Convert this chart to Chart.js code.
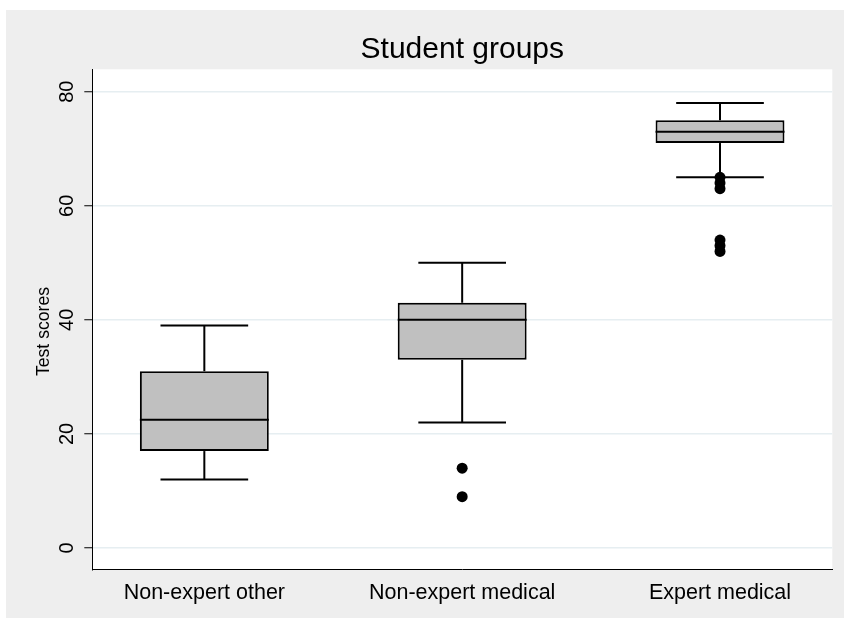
<!DOCTYPE html>
<html>
<head>
<meta charset="utf-8">
<script src="https://cdn.jsdelivr.net/npm/chart.js@4"></script>
<style>
  html, body { margin: 0; padding: 0; background: #fff; }
  #wrap { position: absolute; left: 6px; top: 10px; width: 838px; height: 608px; background: #eeeeee; }
</style>
</head>
<body>
<div id="wrap"><canvas id="boxChart" width="838" height="608"></canvas></div>
<script>
// ── Data ──
const GROUPS   = ['Non-expert other', 'Non-expert medical', 'Expert medical'];
const LOW_ADJ  = [12, 22, 65];
const Q1       = [17, 33, 71];
const MEDIAN   = [22.5, 40, 73];
const Q3       = [31, 43, 75];
const HIGH_ADJ = [39, 50, 78];
const OUTLIER_GROUP = [2, 2, 3, 3, 3, 3, 3, 3];
const OUTLIER_VALUE = [14, 9, 52, 53, 54, 63, 64, 65];
const Y_TICKS  = [0, 20, 40, 60, 80];

// ── Style tokens ──
const FONT   = "'Liberation Sans', Arial, sans-serif";
const C_BOX  = '#c0c0c0';
const C_INK  = '#000000';
const C_GRID = '#e6eef1';

// white plot region on the grey page
const plotBg = {
  id: 'plotBg',
  beforeDraw(chart) {
    const { ctx, chartArea: a } = chart;
    ctx.save();
    ctx.fillStyle = '#ffffff';
    ctx.fillRect(a.left, a.top, a.right - a.left, a.bottom - a.top);
    ctx.restore();
  }
};

// whiskers, caps and median line, placed through the chart scales
const whiskers = {
  id: 'whiskers',
  afterDatasetsDraw(chart) {
    const { ctx, scales: { x, y } } = chart;
    const bars = chart.getDatasetMeta(0).data;
    const line = (x1, y1, x2, y2) => {
      ctx.beginPath(); ctx.moveTo(x1, y1); ctx.lineTo(x2, y2); ctx.stroke();
    };
    ctx.save();
    ctx.strokeStyle = C_INK;
    ctx.lineWidth = 2;
    GROUPS.forEach((g, i) => {
      const cx = x.getPixelForValue(i + 1);
      const half = bars[i].width / 2;
      const cap = half * 0.68;
      const yHi = y.getPixelForValue(HIGH_ADJ[i]);
      const yLo = y.getPixelForValue(LOW_ADJ[i]);
      line(cx, y.getPixelForValue(Q3[i]), cx, yHi);
      line(cx, y.getPixelForValue(Q1[i]), cx, yLo);
      line(cx - cap, yHi, cx + cap, yHi);
      line(cx - cap, yLo, cx + cap, yLo);
      const yMed = y.getPixelForValue(MEDIAN[i]);
      line(cx - half, yMed, cx + half, yMed);
    });
    ctx.restore();
  }
};

new Chart(document.getElementById('boxChart'), {
  type: 'bar',
  data: {
    datasets: [{
      label: 'Box',
      data: GROUPS.map((g, i) => ({ x: i + 1, y: [Q1[i], Q3[i]] })),
      backgroundColor: C_BOX,
      borderColor: C_INK,
      borderWidth: 2,
      borderSkipped: false,
      categoryPercentage: 1,
      barPercentage: 0.5,
    }, {
      type: 'scatter',
      label: 'Outliers',
      data: OUTLIER_GROUP.map((g, i) => ({ x: g, y: OUTLIER_VALUE[i] })),
      pointRadius: 5.5,
      pointBackgroundColor: C_INK,
      pointBorderWidth: 0,
      showLine: false,
    }]
  },
  options: {
    responsive: false,
    devicePixelRatio: 1,
    animation: false,
    events: [],
    layout: { padding: { left: 0, right: 11.7, top: 0, bottom: 0 } },
    plugins: {
      legend: { display: false },
      tooltip: { enabled: false },
      title: {
        display: true,
        text: 'Student groups',
        fullSize: false,
        color: C_INK,
        font: { size: 30, family: FONT, weight: 'normal' },
        padding: { top: 22, bottom: 1.3 },
      }
    },
    scales: {
      x: {
        type: 'linear',
        min: 0.5655,
        max: 3.4355,
        offset: false,
        afterBuildTicks: s => { s.ticks = GROUPS.map((g, i) => ({ value: i + 1 })); },
        afterFit: s => { s.height = 48.7; },
        grid: { display: false, drawTicks: false, offset: false },
        border: { display: true, color: C_INK, width: 1 },
        ticks: {
          callback: v => GROUPS[v - 1],
          autoSkip: false,
          maxRotation: 0,
          padding: 11,
          color: C_INK,
          font: { size: 21.5, family: FONT },
        }
      },
      y: {
        type: 'linear',
        min: -3.73,
        max: 83.93,
        afterBuildTicks: s => { s.ticks = Y_TICKS.map(v => ({ value: v })); },
        afterFit: s => { s.width = 86.3; },
        grid: { color: C_GRID, lineWidth: 1.5, tickColor: C_INK, tickLength: 8, tickWidth: 1 },
        border: { display: true, color: C_INK, width: 1 },
        ticks: {
          minRotation: 90,
          maxRotation: 90,
          crossAlign: 'center',
          padding: 6,
          color: C_INK,
          font: { size: 20, family: FONT },
        },
        title: {
          display: true,
          // trailing spaces nudge the centred title down, as in the reference
          text: 'Test scores     ',
          color: C_INK,
          font: { size: 17.6, family: FONT },
          padding: { top: 27.4, bottom: 0 },
        }
      }
    }
  },
  plugins: [plotBg, whiskers]
});
</script>
</body>
</html>
